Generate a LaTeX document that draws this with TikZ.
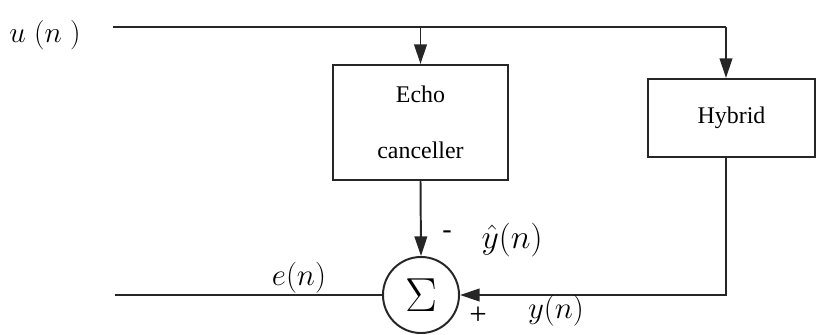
\RequirePackage{fix-cm}
\documentclass[tikz,border=0pt]{standalone}
\usepackage{fontspec}
\setmainfont{Liberation Serif}
\usetikzlibrary{arrows.meta, positioning, calc}
\tikzset{
    blockbox/.style={rectangle, draw=black!85, line width=1.4pt, align=center, font=\fontsize{17}{21}\selectfont},
    sumnode/.style={circle, draw=black!85, line width=1.4pt, minimum size=1.9cm, inner sep=0pt, font=\fontsize{34}{38}\selectfont},
    sigline/.style={line width=1.4pt, black!85},
    sigarrow/.style={-{Triangle[length=14pt, width=9pt]}, line width=1.4pt, black!85},
}

\begin{document}
\begin{tikzpicture}[x=0.025cm, y=-0.025cm,
  lbl/.style={inner sep=0pt},
  sgnmark/.style={inner sep=0pt, font=\fontsize{20}{22}\selectfont}
]
\useasboundingbox (0,0) rectangle (818,335);
\node[lbl, font=\fontsize{21}{25}\selectfont] (un) at (45,35) {$u\;(n\;)$};
\node[blockbox, minimum width=4.375cm, minimum height=2.875cm] (echo) at (420.5,122.5) {\raisebox{-4pt}{Echo}\\[19pt]\raisebox{-4pt}{canceller}};
\node[blockbox, minimum width=4.175cm, minimum height=1.95cm] (hyb) at (731.5,118) {Hybrid};
\node[sumnode] (sum) at (421,295) {$\Sigma$};
\coordinate (in) at (113,27);
\coordinate (hb) at (726,27);
\coordinate (out) at (115,295);

\draw[sigline] (in) -- (hb);
\draw[sigarrow] (echo.north |- in) -- (echo.north);
\draw[sigarrow] (hb) -- (hb |- hyb.north);
\draw[sigarrow] (echo.south) -- (sum.north);
\draw[sigarrow] (hb |- hyb.south) |- (sum.east);
\draw[sigline] (sum.west) -- (out);

\node[lbl, font=\fontsize{22}{26}\selectfont] (en) at (299,278) {$e(n)$};
\node[lbl, font=\fontsize{24}{28}\selectfont] (yhat) at (512,240) {$\hat{y}(n)$};
\node[lbl, font=\fontsize{22}{26}\selectfont] (yn) at (556,311) {$y(n)$};
\node[sgnmark] (minus) at (447,235) {\fontsize{20}{22}\selectfont -};
\node[sgnmark] (plus) at (478,316) {\fontsize{22}{24}\selectfont +};
\end{tikzpicture}
\end{document}
